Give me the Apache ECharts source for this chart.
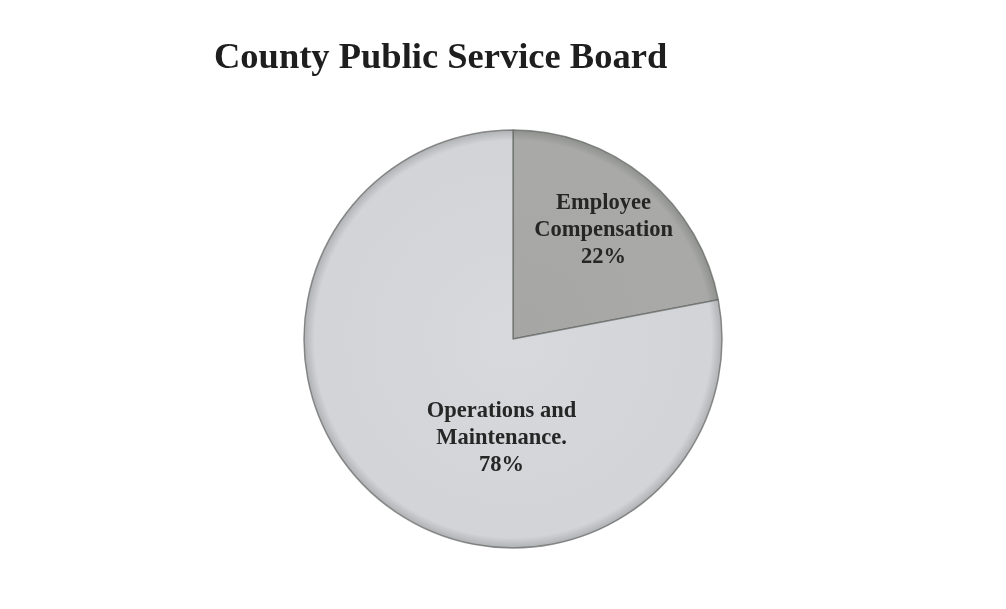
<!DOCTYPE html>
<html>
<head>
<meta charset="utf-8">
<script src="https://cdn.jsdelivr.net/npm/echarts@6/dist/echarts.min.js"></script>
<style>
  html, body { margin: 0; padding: 0; background: #ffffff; }
  #chart { width: 1006px; height: 609px; }
</style>
</head>
<body>
<div id="chart"></div>
<script>
// Budget split for the County Public Service Board
const categories = ['Employee\nCompensation', 'Operations and\nMaintenance.'];
const shares = [22, 78];

const CX = 513, CY = 339, R = 209;

// Radial shading gives each slice a darker rim
function rimShade(inner, mid, rim) {
  return {
    type: 'radial', x: CX, y: CY, r: R, global: true,
    colorStops: [
      { offset: 0, color: inner },
      { offset: 0.85, color: mid },
      { offset: 0.95, color: mid },
      { offset: 1, color: rim }
    ]
  };
}

const sliceStyles = [
  { fill: rimShade('#a6a7a5', '#a9aaa8', '#8e908e'), offset: [22, -26] },
  { fill: rimShade('#d8d9dd', '#d3d4d8', '#b0b1b4'), offset: [57, 16] }
];

const chart = echarts.init(document.getElementById('chart'));
chart.setOption({
  backgroundColor: '#ffffff',
  animation: false,
  title: {
    text: 'County Public Service Board',
    left: 209,
    top: 35,
    textStyle: {
      fontFamily: 'Liberation Serif',
      fontWeight: 'bold',
      fontSize: 36.5,
      color: '#1e1e1e'
    }
  },
  series: [{
    type: 'pie',
    center: [CX, CY],
    radius: [0, R],
    startAngle: 90,
    clockwise: true,
    label: {
      show: true,
      position: 'inside',
      formatter: p => p.name + '\n' + p.value + '%',
      fontFamily: 'Liberation Serif',
      fontWeight: 'bold',
      fontSize: 22.5,
      lineHeight: 27,
      color: '#262626',
      align: 'center'
    },
    labelLine: { show: false },
    emphasis: { disabled: true },
    itemStyle: {
      borderColor: 'rgba(100,102,100,0.7)',
      borderWidth: 1.5
    },
    data: categories.map((name, i) => ({
      name: name,
      value: shares[i],
      itemStyle: { color: sliceStyles[i].fill },
      label: { offset: sliceStyles[i].offset }
    }))
  }]
});
</script>
</body>
</html>
